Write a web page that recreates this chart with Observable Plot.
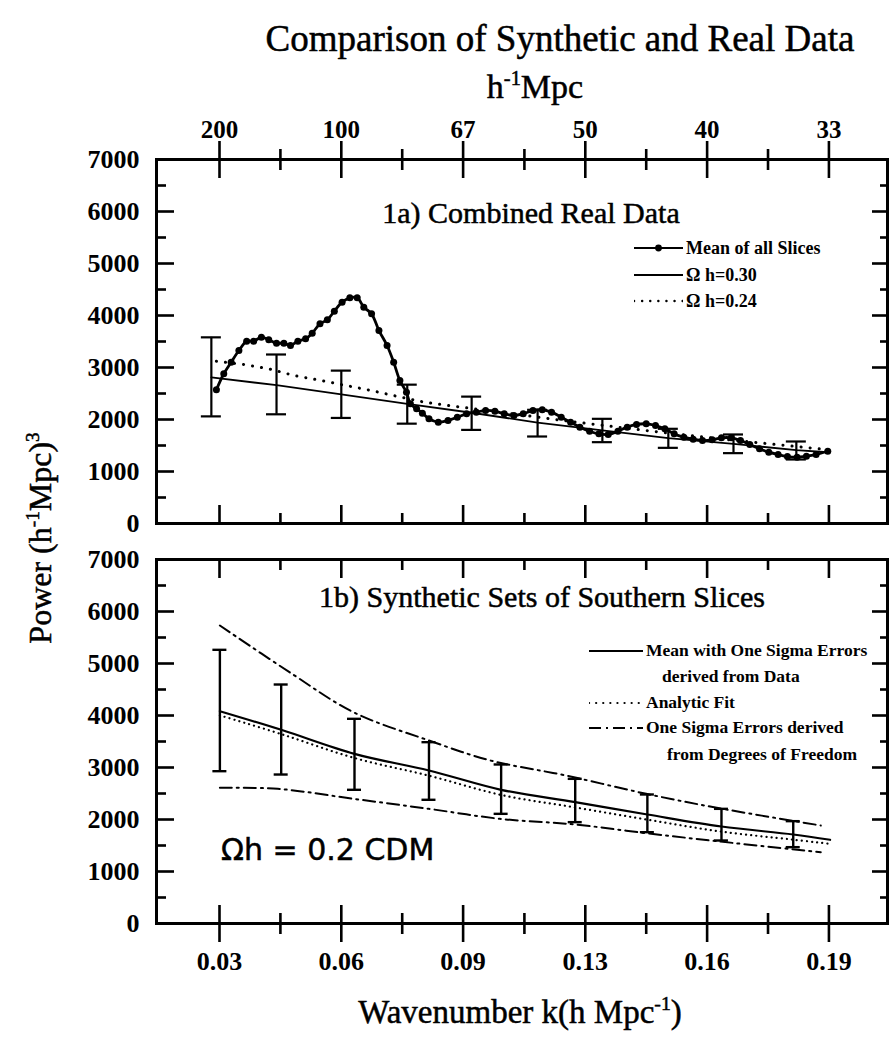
<!DOCTYPE html>
<html><head><meta charset="utf-8">
<script src="https://cdn.jsdelivr.net/npm/d3@7"></script>
<script src="https://cdn.jsdelivr.net/npm/@observablehq/plot@0.6"></script>
<style>
body{margin:0;background:#fff;}
#wrap{position:relative;width:889px;height:1039px;overflow:hidden;font-family:"Liberation Serif","Times New Roman",serif;color:#000;}
#wrap svg{position:absolute;left:0;}
.abs{position:absolute;white-space:nowrap;line-height:1;}
.heavy{-webkit-text-stroke:0.5px #000;}
sup{font-size:0.6em;vertical-align:0.65em;line-height:0;}
</style></head><body><div id="wrap"></div><script>
// ---------- axes ----------
const xTicks = [0.0314, 0.0628, 0.0942, 0.1257, 0.1571, 0.1885];
const xMinor = [0.0471, 0.0785, 0.1100, 0.1414, 0.1728];
const xTickLabels = ["0.03", "0.06", "0.09", "0.13", "0.16", "0.19"];
const topTickLabels = ["200", "100", "67", "50", "40", "33"];
const yTicks = [0, 1000, 2000, 3000, 4000, 5000, 6000, 7000];
const yMinor = [500, 1500, 2500, 3500, 4500, 5500, 6500];

// ---------- 1a) combined real data ----------
const meanK = [0.0306,0.0325,0.0344,0.0364,0.0384,0.0402,0.0422,0.0441,0.0461,0.0480,0.0497,0.0516,0.0536,0.0553,0.0573,0.0592,0.0610,0.0630,0.0650,0.0669,0.0686,0.0706,0.0725,0.0746,0.0763,0.0779,0.0796,0.0806,0.0822,0.0837,0.0854,0.0878,0.0903,0.0927,0.0951,0.0976,0.1000,0.1024,0.1048,0.1073,0.1097,0.1122,0.1146,0.1170,0.1195,0.1219,0.1243,0.1268,0.1292,0.1316,0.1341,0.1365,0.1389,0.1414,0.1438,0.1462,0.1486,0.1511,0.1535,0.1559,0.1584,0.1608,0.1633,0.1657,0.1681,0.1706,0.1730,0.1754,0.1778,0.1803,0.1827,0.1852,0.1882];
const meanP = [2571,2879,3102,3327,3506,3506,3583,3532,3467,3467,3423,3506,3551,3660,3840,3917,4083,4256,4340,4340,4160,4032,3711,3423,3102,2750,2525,2302,2206,2121,2013,1948,1981,2044,2109,2141,2173,2160,2109,2077,2109,2173,2186,2141,2044,1948,1853,1775,1724,1712,1775,1853,1904,1917,1885,1821,1724,1660,1621,1596,1609,1648,1648,1596,1519,1436,1372,1327,1288,1275,1294,1327,1390];
const fit30K = [0.0293,0.0461,0.0628,0.0798,0.0964,0.1134,0.1301,0.1471,0.1639,0.1801,0.1882];
const fit30P = [2810,2660,2485,2300,2130,1940,1790,1640,1530,1410,1370];
const fit24K = [0.0306,0.0377,0.0441,0.0506,0.0576,0.0640,0.0705,0.0774,0.0842,0.0903,0.1000,0.1200,0.1400,0.1600,0.1882];
const fit24P = [3121,3058,2975,2846,2750,2654,2558,2442,2333,2269,2180,1980,1800,1630,1420];
const barAK = [0.0293,0.0461,0.0628,0.0798,0.0964,0.1134,0.1301,0.1471,0.1639,0.1801];
const barALo = [2060,2100,2030,1920,1800,1673,1564,1455,1353,1231];
const barAHi = [3580,3250,2940,2670,2440,2186,2013,1821,1712,1577];

// ---------- 1b) synthetic sets ----------
const synK = [0.0315,0.0473,0.0662,0.0854,0.1040,0.1231,0.1417,0.1608,0.1793,0.1888];
const synP = [4083,3725,3263,2942,2571,2333,2096,1865,1712,1610];
const barBK = [0.0315,0.0473,0.0662,0.0854,0.1040,0.1231,0.1417,0.1608,0.1793];
const barBLo = [2929,2865,2571,2379,2109,1949,1756,1596,1468];
const barBHi = [5263,4596,3936,3487,3058,2782,2481,2205,1968];
const anaK = [0.0315,0.0473,0.0662,0.0854,0.1040,0.1231,0.1417,0.1608,0.1793,0.1888];
const anaP = [4060,3700,3240,2900,2530,2290,2055,1825,1670,1590];
const dofHiK = [0.0315,0.0501,0.0659,0.0854,0.1012,0.1207,0.1414,0.1596,0.1864];
const dofHiP = [5731,4801,4064,3519,3135,2846,2494,2225,1885];
const dofLoK = [0.0315,0.0464,0.0659,0.0854,0.1037,0.1231,0.1414,0.1596,0.1864];
const dofLoP = [2609,2590,2398,2205,2013,1904,1737,1583,1371];

const zip = (K, P) => K.map((k, i) => ({k, p: P[i]}));
const bars = (K, L, H) => K.map((k, i) => ({k, lo: L[i], hi: H[i]}));

const FONT = '"Liberation Serif","Times New Roman",serif';
const xDomain = [0.01516, 0.2036];
const SW = 2.6;

function yEdge() {
  const blank = () => "";
  return [
    Plot.axisY({anchor: "left", ticks: yTicks, tickSize: -18, tickFormat: blank, label: null, strokeWidth: SW}),
    Plot.axisY({anchor: "left", ticks: yMinor, tickSize: -10, tickFormat: blank, label: null, strokeWidth: SW}),
    Plot.axisY({anchor: "right", ticks: yTicks, tickSize: -16, tickFormat: blank, label: null, strokeWidth: SW}),
    Plot.axisY({anchor: "right", ticks: yMinor, tickSize: -8, tickFormat: blank, label: null, strokeWidth: SW}),
    Plot.axisY({anchor: "left", ticks: yTicks, tickSize: 0, tickPadding: 17, tickFormat: d => String(d), label: null,
      fontSize: 26, fontWeight: "bold", stroke: "#000", strokeWidth: 0.4})
  ];
}
function xEdge(anchor, crossing) {
  const blank = () => "";
  const m = [
    Plot.axisX({anchor, ticks: xTicks, tickSize: -18, tickFormat: blank, label: null, strokeWidth: SW}),
    Plot.axisX({anchor, ticks: xMinor, tickSize: -10, tickFormat: blank, label: null, strokeWidth: SW})
  ];
  if (crossing) {
    m.push(Plot.axisX({anchor, ticks: xTicks, tickSize: 19, tickFormat: blank, label: null, strokeWidth: SW}));
    m.push(Plot.axisX({anchor, ticks: xMinor, tickSize: 11, tickFormat: blank, label: null, strokeWidth: SW}));
  }
  return m;
}
function errorBars(data, cap, sw) {
  return [
    Plot.ruleX(data, {x: "k", y1: "lo", y2: "hi", strokeWidth: sw}),
    Plot.ruleY(data, {y: "lo", x1: "k", x2: "k", insetLeft: -cap, insetRight: -cap, strokeWidth: sw}),
    Plot.ruleY(data, {y: "hi", x1: "k", x2: "k", insetLeft: -cap, insetRight: -cap, strokeWidth: sw})
  ];
}

const wrap = document.getElementById("wrap");

const plotA = Plot.plot({
  width: 889, height: 540, marginLeft: 156, marginRight: 2, marginTop: 159, marginBottom: 17,
  style: {fontFamily: FONT, background: "transparent", overflow: "visible", color: "#000"},
  x: {domain: xDomain}, y: {domain: [0, 7000]},
  marks: [
    ...yEdge(),
    ...xEdge("bottom", false),
    ...xEdge("top", true),
    Plot.axisX({anchor: "top", ticks: xTicks, tickSize: 0, tickPadding: 22, label: null,
      tickFormat: d => topTickLabels[xTicks.indexOf(d)], fontSize: 25, fontWeight: "bold"}),
    Plot.line(zip(fit24K, fit24P), {x: "k", y: "p", strokeWidth: 3, strokeDasharray: "0.1,9", strokeLinecap: "round"}),
    Plot.line(zip(fit30K, fit30P), {x: "k", y: "p", strokeWidth: 1.8}),
    ...errorBars(bars(barAK, barALo, barAHi), 10, 2.2),
    Plot.line(zip(meanK, meanP), {x: "k", y: "p", strokeWidth: 2.8, curve: "catmull-rom"}),
    Plot.dot(zip(meanK, meanP), {x: "k", y: "p", r: 3.5, fill: "#000"}),
    Plot.frame({strokeWidth: 3})
  ]
});
plotA.style.top = "0px";
wrap.appendChild(plotA);

const plotB = Plot.plot({
  width: 889, height: 499, marginLeft: 156, marginRight: 2, marginTop: 19, marginBottom: 116,
  style: {fontFamily: FONT, background: "transparent", overflow: "visible", color: "#000"},
  x: {domain: xDomain}, y: {domain: [0, 7000]},
  marks: [
    ...yEdge(),
    ...xEdge("top", false),
    ...xEdge("bottom", true),
    Plot.axisX({anchor: "bottom", ticks: xTicks, tickSize: 0, tickPadding: 28, label: null,
      tickFormat: d => xTickLabels[xTicks.indexOf(d)], fontSize: 26, fontWeight: "bold"}),
    Plot.line(zip(dofHiK, dofHiP), {x: "k", y: "p", strokeWidth: 2, strokeDasharray: "12,5,2,5", curve: "catmull-rom"}),
    Plot.line(zip(dofLoK, dofLoP), {x: "k", y: "p", strokeWidth: 2, strokeDasharray: "12,5,2,5", curve: "catmull-rom"}),
    Plot.line(zip(anaK, anaP), {x: "k", y: "p", strokeWidth: 2.2, strokeDasharray: "0.1,5", strokeLinecap: "round", dy: 3, curve: "catmull-rom"}),
    Plot.line(zip(synK, synP), {x: "k", y: "p", strokeWidth: 2.2, curve: "catmull-rom"}),
    ...errorBars(bars(barBK, barBLo, barBHi), 7, 2.4),
    Plot.frame({strokeWidth: 3})
  ]
});
plotB.style.top = "540px";
wrap.appendChild(plotB);

// ---------- text ----------
function label(html, x, y, size, opts = {}) {
  const d = document.createElement("div");
  d.className = "abs" + (opts.heavy ? " heavy" : "");
  d.innerHTML = html;
  d.style.left = x + "px";
  d.style.top = y + "px";
  d.style.fontSize = size + "px";
  d.style.transform = opts.transform || "translate(-50%,-50%)";
  if (opts.weight) d.style.fontWeight = opts.weight;
  if (opts.family) d.style.fontFamily = opts.family;
  wrap.appendChild(d);
  return d;
}
function sample(x1, x2, y, opts = {}) {
  const ns = "http://www.w3.org/2000/svg";
  const s = document.createElementNS(ns, "svg");
  s.setAttribute("width", x2 - x1); s.setAttribute("height", 12);
  s.style.left = x1 + "px"; s.style.top = (y - 6) + "px";
  const l = document.createElementNS(ns, "line");
  l.setAttribute("x1", 0); l.setAttribute("x2", x2 - x1); l.setAttribute("y1", 6); l.setAttribute("y2", 6);
  l.setAttribute("stroke", "#000"); l.setAttribute("stroke-width", opts.sw || 2);
  if (opts.dash) l.setAttribute("stroke-dasharray", opts.dash);
  if (opts.cap) l.setAttribute("stroke-linecap", opts.cap);
  s.appendChild(l);
  if (opts.dot) {
    const c = document.createElementNS(ns, "circle");
    c.setAttribute("cx", (x2 - x1) / 2); c.setAttribute("cy", 6); c.setAttribute("r", 3.4);
    s.appendChild(c);
  }
  wrap.appendChild(s);
}

label("Comparison of Synthetic and Real Data", 560, 38, 37, {heavy: true});
label("h<sup>-1</sup>Mpc", 535, 87, 34, {heavy: true});
label("1a) Combined Real Data", 531, 213, 30, {heavy: true});
label("1b) Synthetic Sets of Southern Slices", 542, 597, 30, {heavy: true});
label("Power (h<sup>-1</sup>Mpc)<sup>3</sup>", 40, 538, 32, {heavy: true, transform: "translate(-50%,-50%) rotate(-90deg)"});
label("Wavenumber k(h Mpc<sup>-1</sup>)", 520, 1012, 33, {heavy: true});

// legend 1a
const L = {transform: "translate(0,-50%)", weight: "bold"};
sample(634, 683, 248, {dot: true, sw: 2});
label("Mean of all Slices", 686, 248, 18, L);
sample(634, 683, 275, {sw: 2.2});
label("Ω h=0.30", 686, 275, 18, L);
sample(634, 683, 301, {sw: 2.4, dash: "0.1,8", cap: "round"});
label("Ω h=0.24", 686, 301, 18, L);

// legend 1b
sample(589, 643, 651, {sw: 2});
label("Mean with One Sigma Errors", 646, 651, 17.5, L);
label("derived from Data", 662, 677, 17.5, L);
sample(589, 643, 703, {sw: 2.2, dash: "0.1,7", cap: "round"});
label("Analytic Fit", 646, 703, 17.5, L);
sample(589, 643, 728, {sw: 2, dash: "12,5,2,5"});
label("One Sigma Errors derived", 646, 728, 17.5, L);
label("from Degrees of Freedom", 667, 755, 17.5, L);

// handwritten note
label("Ωh = 0.2 CDM", 221, 850, 30, {transform: "translate(0,-50%)", family: '"DejaVu Sans", sans-serif', heavy: true});
</script></body></html>
